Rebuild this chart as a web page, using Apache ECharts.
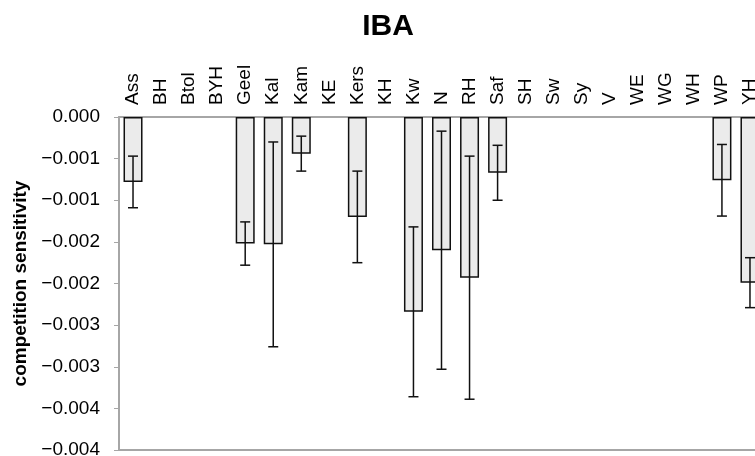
<!DOCTYPE html>
<html>
<head>
<meta charset="utf-8">
<script src="https://cdn.jsdelivr.net/npm/echarts@6/dist/echarts.min.js"></script>
<style>
  html, body { margin: 0; padding: 0; background: #fff; }
  #chart { width: 755px; height: 456px; }
</style>
</head>
<body>
<div id="chart"></div>
<script>
// sites along the top axis
var sites = ['Ass', 'BH', 'Btol', 'BYH', 'Geel', 'Kal', 'Kam', 'KE', 'Kers', 'KH', 'Kw', 'N',
    'RH', 'Saf', 'SH', 'Sw', 'Sy', 'V', 'WE', 'WG', 'WH', 'WP', 'YH'];
// mean competition sensitivity (null = no bar)
var sensitivity = [-0.00078, null, null, null, -0.00152, -0.00153, -0.00044, null, -0.00120, null, -0.00234, -0.00160,
    -0.00193, -0.00067, null, null, null, null, null, null, null, -0.00076, -0.00199];
// half width of the error bars
var errHalf = [0.00031, null, null, null, 0.00026, 0.00123, 0.00021, null, 0.00055, null, 0.00102, 0.00143,
    0.00146, 0.00033, null, null, null, null, null, null, null, 0.00043, 0.00030];
var yTicks = { min: -0.004, max: 0, step: 0.0005 };

var errData = [];
for (var i = 0; i < sites.length; i++) {
    if (sensitivity[i] == null) continue;
    errData.push([i, sensitivity[i] - errHalf[i], sensitivity[i] + errHalf[i]]);
}

var chart = echarts.init(document.getElementById('chart'));
var option = {
    animation: false,
    title: {
        text: 'IBA',
        left: 383,
        top: 7,
        textAlign: 'center',
        textStyle: { fontFamily: 'Liberation Sans', fontWeight: 'bold', fontSize: 30, color: '#000' }
    },
    grid: { left: 119, top: 117, bottom: 6, width: 645, outerBoundsMode: 'none', containLabel: false },
    xAxis: [{
        type: 'category',
        position: 'top',
        data: sites,
        axisLine: { lineStyle: { color: '#a6a6a6', width: 2 } },
        axisTick: { inside: true, length: 5, lineStyle: { color: '#a6a6a6', width: 1 } },
        axisLabel: { rotate: 90, margin: 12, fontFamily: 'Liberation Sans', fontSize: 19, color: '#000', interval: 0 }
    }, {
        type: 'category',
        position: 'bottom',
        data: sites,
        axisLine: { lineStyle: { color: '#a6a6a6', width: 2 } },
        axisTick: { show: false },
        axisLabel: { show: false }
    }],
    yAxis: {
        type: 'value',
        min: yTicks.min,
        max: yTicks.max,
        interval: yTicks.step,
        name: 'competition sensitivity',
        nameLocation: 'middle',
        nameGap: 85,
        nameTextStyle: { fontFamily: 'Liberation Sans', fontWeight: 'bold', fontSize: 19, color: '#000' },
        axisLine: { show: true, lineStyle: { color: '#a6a6a6', width: 2 } },
        axisTick: { show: true, length: 5, lineStyle: { color: '#a6a6a6' } },
        splitLine: { show: false },
        axisLabel: {
            margin: 19,
            fontFamily: 'Liberation Sans',
            fontSize: 19,
            color: '#000',
            formatter: function (v) {
                var s = (Math.abs(v) + 1e-9).toFixed(3);
                return v < -1e-9 ? '\u2212' + s : s;
            }
        }
    },
    series: [{
        type: 'bar',
        data: sensitivity,
        barWidth: 19,
        itemStyle: { color: '#ebebeb', borderColor: '#111', borderWidth: 1.5 }
    }, {
        type: 'custom',
        data: errData,
        z: 5,
        renderItem: function (params, api) {
            var lo = api.coord([api.value(0), api.value(1)]);
            var hi = api.coord([api.value(0), api.value(2)]);
            var cap = 5;
            var style = { stroke: '#111', lineWidth: 1.5 };
            return {
                type: 'group',
                children: [
                    { type: 'line', shape: { x1: lo[0], y1: lo[1], x2: hi[0], y2: hi[1] }, style: style },
                    { type: 'line', shape: { x1: lo[0] - cap, y1: lo[1], x2: lo[0] + cap, y2: lo[1] }, style: style },
                    { type: 'line', shape: { x1: hi[0] - cap, y1: hi[1], x2: hi[0] + cap, y2: hi[1] }, style: style }
                ]
            };
        }
    }]
};
chart.setOption(option);
</script>
</body>
</html>
